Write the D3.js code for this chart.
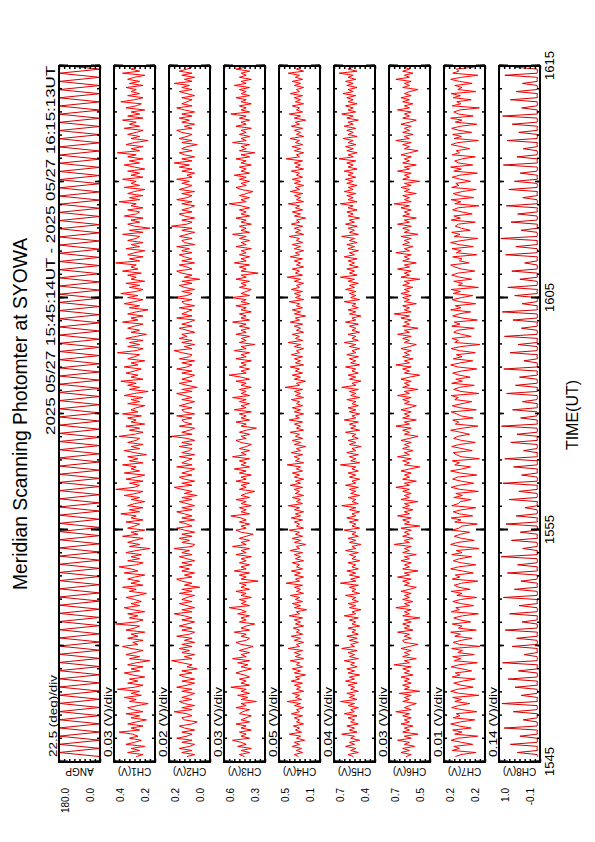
<!DOCTYPE html>
<html>
<head>
<meta charset="utf-8">
<script src="https://cdn.jsdelivr.net/npm/d3@7"></script>
<style>
	body { margin: 0; background: #fff; }
	svg { display: block; }
	text { font-family: "Liberation Sans", Arial, Helvetica, sans-serif; fill: #000; }
</style>
</head>
<body>
<div id="graph"></div>
<script>

// The plot is drawn in landscape (842 x 595) and turned a quarter turn
// so it sits on the portrait page like the original print.
let width = 842;
let height = 595;

let titleText = "Meridian Scanning Photomter at SYOWA";
let periodText = "2025 05/27 15:45:14UT - 2025 05/27 16:15:13UT";

let channelNames = ["ANGP", "CH1(V)", "CH2(V)", "CH3(V)", "CH4(V)",
	"CH5(V)", "CH6(V)", "CH7(V)", "CH8(V)"];
let divLabels = ["22.5 (deg)/div", "0.03 (V)/div", "0.02 (V)/div",
	"0.03 (V)/div", "0.05 (V)/div", "0.04 (V)/div", "0.03 (V)/div",
	"0.01 (V)/div", "0.14 (V)/div"];
let perDiv = [22.5, 0.03, 0.02, 0.03, 0.05, 0.04, 0.03, 0.01, 0.14];
let axisMins = [0.0, 0.2, 0.0, 0.33, 0.1, 0.4, 0.5, 0.16, -0.1];
let topLabels = ["180.0", "0.4", "0.2", "0.6", "0.5", "0.7", "0.7", "0.2", "1.0"];
let bottomLabels = ["0.0", "0.2", "0.0", "0.3", "0.1", "0.4", "0.5", "0.2", "-0.1"];

let timeTickLabels = ["1545", "1555", "1605", "1615"];
let timeTickSecs = [56700, 57300, 57900, 58500];   // 15:45 .. 16:15
let startSec = 56714;   // 15:45:14 UT
let endSec = 58513;     // 16:15:13 UT

// scan angle, one value per half scan
let angp = [
	0,180,0,180,0,180,0,180,0,180,0,180,0,180,0,180,0,180,0,
	180,0,180,0,180,0,180,0,180,0,180,0,180,0,180,0,180,0,180,
	0,180,0,180,0,180,0,180,0,180,0,180,0,180,0,180,0,180,0,
	180,0,180,0,180,0,180,0,180,0,180,0,180,0,180,0,180,0,180,
	0,180,0,180,0,180,0,180,0,180,0,180,0,180,0,180,0,180,0,
	180,0,180,0,180,0,180,0,180,0,180,0,180,0,180,0,180,0,180,
	0,180,0,180,0,180,0,180,0,180,0,180,0,180,0,180,0,180,0,
	180,0,180,0,180,0,180,0,180,0,180,0,180,0,180,0,180,0,180,
	0,180,0,180,0,180,0,180,0,180,0,180,0,180,0,180,0,180,0
	];
// photometer channels, four values per scan
let ch1 = [
	0.31,0.27,0.36,0.29,0.34,0.26,0.37,0.32,0.28,0.35,0.30,0.33,0.41,0.29,0.34,0.27,0.36,0.31,0.25,
	0.34,0.29,0.37,0.27,0.33,0.36,0.30,0.24,0.35,0.31,0.38,0.28,0.34,0.29,0.42,0.32,0.27,0.36,0.30,
	0.35,0.26,0.33,0.38,0.29,0.34,0.27,0.36,0.31,0.23,0.35,0.29,0.37,0.32,0.27,0.34,0.39,0.30,0.33,
	0.27,0.36,0.30,0.34,0.26,0.37,0.32,0.29,0.43,0.31,0.27,0.35,0.30,0.36,0.26,0.33,0.38,0.29,0.34,
	0.28,0.32,0.37,0.30,0.25,0.35,0.31,0.39,0.27,0.34,0.29,0.36,0.32,0.26,0.38,0.30,0.34,0.41,0.31,
	0.27,0.36,0.29,0.34,0.28,0.37,0.31,0.23,0.35,0.29,0.36,0.32,0.27,0.39,0.30,0.34,0.26,0.36,0.32,
	0.29,0.37,0.27,0.34,0.31,0.40,0.29,0.35,0.27,0.36,0.32,0.26,0.34,0.29,0.38,0.31,0.27,0.43,0.32,
	0.29,0.35,0.27,0.37,0.31,0.26,0.38,0.29,0.34,0.31,0.39,0.27,0.35,0.30,0.36,0.25,0.32,0.38,0.29,
	0.34,0.27,0.36,0.31,0.29,0.41,0.32,0.27,0.35,0.29,0.37,0.26,0.34,0.31,0.36,0.28,0.39,0.30,0.34,
	0.31,0.26,0.36,0.29,0.34,0.27,0.38,0.32,0.24,0.35,0.29,0.36,0.31,0.40,0.27,0.34,0.30,0.37,0.32,
	0.28,0.38,0.30,0.34,0.26,0.36,0.32,0.29,0.42,0.31,0.27,0.36,0.29,0.35,0.27,0.37,0.31,0.25,0.34,
	0.29,0.36,0.32,0.27,0.39,0.30,0.34,0.27,0.36,0.31,0.24,0.35,0.29,0.38,0.32,0.27,0.36,0.30,0.40,
	0.31,0.27,0.35,0.29,0.37,0.26,0.34,0.31,0.36,0.28,0.39,0.30,0.34,0.31,0.43,0.29,0.35,0.27,0.36,
	0.32,0.26,0.37,0.29,0.34,0.27,0.36,0.31,0.29,0.39,0.27,0.35,0.23,0.32,0.36,0.29,0.34,0.27,0.38,
	0.31,0.29,0.36,0.27,0.34,0.31,0.41,0.29,0.35,0.27,0.36,0.32,0.26,0.38,0.29,0.34,0.31,0.39,0.27,
	0.34,0.29,0.36,0.26,0.32,0.38,0.29,0.35,0.27,0.36,0.31,0.42,0.29,0.34,0.27,0.37,0.32,0.24,0.34,
	0.29,0.36,0.31,0.27,0.38,0.29,0.35,0.31,0.39,0.27,0.36,0.29,0.34,0.26,0.37,0.31,0.28,0.40,0.32,
	0.27,0.36,0.29,0.34,0.31,0.37,0.27,0.35,0.29,0.36,0.32,0.26,0.39,0.29,0.34,0.31,0.36,0.27,0.34
	];
let ch2 = [
	0.09,0.06,0.11,0.07,0.12,0.08,0.06,0.11,0.07,0.13,0.09,0.07,0.11,0.06,0.10,0.12,0.07,0.05,0.10,
	0.11,0.07,0.09,0.14,0.07,0.11,0.06,0.10,0.12,0.07,0.11,0.08,0.06,0.11,0.07,0.13,0.09,0.06,0.11,
	0.06,0.10,0.12,0.07,0.11,0.05,0.09,0.07,0.11,0.15,0.07,0.10,0.06,0.11,0.08,0.12,0.07,0.11,0.06,
	0.10,0.07,0.13,0.08,0.06,0.11,0.07,0.12,0.09,0.06,0.11,0.07,0.10,0.14,0.07,0.11,0.06,0.09,0.12,
	0.07,0.11,0.09,0.06,0.12,0.07,0.11,0.04,0.10,0.07,0.11,0.13,0.07,0.10,0.06,0.11,0.08,0.12,0.07,
	0.11,0.06,0.09,0.12,0.07,0.11,0.08,0.14,0.07,0.06,0.11,0.08,0.12,0.07,0.11,0.06,0.10,0.13,0.07,
	0.09,0.12,0.06,0.11,0.07,0.10,0.13,0.07,0.11,0.06,0.09,0.12,0.07,0.11,0.05,0.10,0.07,0.11,0.14,
	0.07,0.11,0.06,0.10,0.12,0.07,0.11,0.08,0.06,0.13,0.07,0.11,0.09,0.07,0.12,0.06,0.11,0.08,0.07,
	0.12,0.07,0.11,0.06,0.09,0.15,0.07,0.11,0.08,0.06,0.12,0.07,0.10,0.11,0.07,0.13,0.06,0.10,0.11,
	0.07,0.12,0.09,0.06,0.11,0.07,0.10,0.13,0.07,0.11,0.05,0.09,0.12,0.07,0.11,0.08,0.06,0.11,0.07,
	0.13,0.09,0.07,0.11,0.06,0.12,0.08,0.07,0.11,0.14,0.07,0.10,0.06,0.11,0.07,0.12,0.09,0.11,0.06,
	0.09,0.12,0.07,0.11,0.08,0.06,0.13,0.07,0.11,0.09,0.07,0.12,0.06,0.10,0.11,0.07,0.14,0.09,0.07,
	0.11,0.06,0.10,0.12,0.07,0.11,0.04,0.10,0.07,0.11,0.13,0.07,0.09,0.12,0.06,0.11,0.07,0.10,0.12,
	0.07,0.11,0.08,0.13,0.06,0.10,0.11,0.07,0.12,0.09,0.06,0.11,0.07,0.15,0.09,0.07,0.11,0.06,0.10,
	0.12,0.07,0.11,0.08,0.06,0.11,0.07,0.13,0.09,0.07,0.11,0.06,0.12,0.09,0.07,0.11,0.08,0.13,0.07,
	0.09,0.06,0.11,0.07,0.12,0.08,0.14,0.07,0.11,0.06,0.10,0.12,0.07,0.11,0.09,0.05,0.11,0.07,0.12,
	0.09,0.07,0.11,0.13,0.07,0.10,0.06,0.11,0.08,0.12,0.07,0.11,0.06,0.10,0.13,0.07,0.11,0.09,0.07,
	0.11,0.06,0.09,0.12,0.07,0.11,0.08,0.14,0.07,0.10,0.06,0.11,0.07,0.12,0.09,0.07,0.11,0.06,0.10
	];
let ch3 = [
	0.45,0.48,0.42,0.47,0.41,0.49,0.44,0.47,0.52,0.42,0.47,0.44,0.48,0.41,0.47,0.44,0.50,0.42,0.47,
	0.44,0.41,0.48,0.46,0.42,0.50,0.44,0.47,0.38,0.47,0.43,0.49,0.42,0.47,0.44,0.53,0.42,0.47,0.44,
	0.48,0.42,0.45,0.50,0.46,0.41,0.47,0.43,0.49,0.42,0.52,0.44,0.47,0.42,0.48,0.44,0.40,0.47,0.50,
	0.44,0.42,0.47,0.44,0.51,0.42,0.47,0.44,0.39,0.48,0.44,0.47,0.42,0.49,0.44,0.47,0.54,0.42,0.47,
	0.44,0.48,0.41,0.47,0.44,0.50,0.42,0.47,0.44,0.48,0.37,0.47,0.44,0.48,0.42,0.51,0.44,0.47,0.42,
	0.48,0.44,0.47,0.41,0.50,0.44,0.47,0.42,0.52,0.44,0.47,0.42,0.48,0.44,0.40,0.47,0.50,0.44,0.47,
	0.42,0.48,0.44,0.47,0.53,0.42,0.47,0.44,0.48,0.41,0.47,0.44,0.50,0.42,0.47,0.44,0.39,0.48,0.44,
	0.47,0.42,0.50,0.44,0.47,0.41,0.48,0.44,0.51,0.42,0.47,0.44,0.48,0.42,0.52,0.44,0.47,0.42,0.48,
	0.44,0.41,0.47,0.50,0.44,0.47,0.42,0.48,0.44,0.38,0.47,0.44,0.50,0.42,0.47,0.44,0.48,0.41,0.51,
	0.44,0.47,0.42,0.48,0.44,0.52,0.42,0.47,0.44,0.48,0.41,0.47,0.44,0.50,0.42,0.47,0.54,0.44,0.47,
	0.42,0.48,0.44,0.47,0.41,0.50,0.44,0.47,0.42,0.51,0.44,0.47,0.39,0.48,0.44,0.47,0.42,0.50,0.44,
	0.47,0.42,0.48,0.44,0.52,0.42,0.47,0.44,0.48,0.41,0.47,0.44,0.50,0.42,0.47,0.44,0.53,0.42,0.47,
	0.44,0.41,0.48,0.44,0.47,0.42,0.50,0.44,0.47,0.37,0.47,0.44,0.48,0.42,0.51,0.44,0.47,0.42,0.48,
	0.44,0.47,0.41,0.50,0.44,0.47,0.42,0.48,0.44,0.52,0.42,0.47,0.44,0.48,0.41,0.47,0.44,0.50,0.42,
	0.47,0.44,0.48,0.42,0.47,0.54,0.44,0.47,0.42,0.48,0.44,0.40,0.47,0.50,0.44,0.47,0.42,0.48,0.44,
	0.51,0.42,0.47,0.44,0.48,0.41,0.47,0.44,0.50,0.42,0.47,0.39,0.48,0.44,0.47,0.42,0.52,0.44,0.47,
	0.42,0.48,0.44,0.47,0.41,0.50,0.44,0.47,0.42,0.48,0.44,0.53,0.42,0.47,0.44,0.48,0.41,0.47,0.44,
	0.50,0.42,0.47,0.44,0.48,0.42,0.51,0.44,0.47,0.41,0.48,0.44,0.47,0.42,0.50,0.44,0.47,0.42,0.48
	];
let ch4 = [
	0.31,0.35,0.27,0.33,0.28,0.37,0.30,0.35,0.25,0.33,0.29,0.40,0.28,0.34,0.30,0.36,0.26,0.33,0.30,
	0.35,0.27,0.38,0.30,0.33,0.26,0.35,0.29,0.42,0.28,0.34,0.30,0.37,0.26,0.33,0.29,0.35,0.27,0.38,
	0.30,0.34,0.24,0.35,0.29,0.37,0.27,0.33,0.30,0.39,0.26,0.34,0.29,0.35,0.27,0.41,0.30,0.33,0.26,
	0.35,0.29,0.38,0.27,0.33,0.30,0.36,0.26,0.34,0.29,0.35,0.27,0.40,0.30,0.33,0.23,0.35,0.29,0.37,
	0.27,0.34,0.30,0.39,0.26,0.33,0.29,0.35,0.27,0.43,0.30,0.34,0.26,0.35,0.29,0.38,0.27,0.33,0.30,
	0.37,0.26,0.34,0.29,0.35,0.27,0.39,0.30,0.33,0.24,0.35,0.29,0.37,0.27,0.34,0.30,0.40,0.26,0.33,
	0.30,0.35,0.27,0.38,0.29,0.34,0.26,0.35,0.30,0.41,0.27,0.33,0.29,0.37,0.26,0.34,0.30,0.35,0.27,
	0.39,0.29,0.34,0.26,0.35,0.30,0.37,0.27,0.33,0.29,0.42,0.26,0.34,0.30,0.35,0.27,0.38,0.29,0.33,
	0.24,0.35,0.29,0.37,0.27,0.34,0.30,0.39,0.26,0.33,0.29,0.35,0.27,0.40,0.30,0.34,0.26,0.35,0.29,
	0.37,0.27,0.33,0.30,0.38,0.26,0.34,0.29,0.35,0.27,0.44,0.30,0.33,0.24,0.35,0.29,0.37,0.27,0.34,
	0.30,0.39,0.26,0.34,0.29,0.35,0.27,0.38,0.30,0.33,0.26,0.35,0.29,0.41,0.27,0.34,0.30,0.37,0.26,
	0.33,0.29,0.35,0.27,0.39,0.30,0.34,0.24,0.35,0.29,0.37,0.27,0.33,0.30,0.40,0.26,0.34,0.29,0.35,
	0.27,0.38,0.30,0.33,0.26,0.35,0.29,0.42,0.27,0.34,0.30,0.37,0.26,0.33,0.29,0.35,0.27,0.39,0.30,
	0.34,0.26,0.35,0.29,0.37,0.27,0.33,0.30,0.40,0.26,0.34,0.29,0.35,0.27,0.38,0.30,0.33,0.24,0.35,
	0.29,0.37,0.27,0.34,0.30,0.41,0.26,0.33,0.29,0.35,0.27,0.39,0.30,0.34,0.26,0.35,0.29,0.37,0.27,
	0.33,0.30,0.38,0.26,0.34,0.29,0.35,0.27,0.43,0.30,0.33,0.26,0.35,0.29,0.37,0.27,0.34,0.30,0.39,
	0.26,0.33,0.29,0.35,0.27,0.38,0.30,0.34,0.24,0.35,0.29,0.40,0.27,0.33,0.30,0.37,0.26,0.34,0.29,
	0.35,0.27,0.39,0.30,0.33,0.26,0.35,0.29,0.37,0.27,0.34,0.30,0.41,0.26,0.33,0.29,0.35,0.27,0.34
	];
let ch5 = [
	0.57,0.61,0.53,0.59,0.55,0.63,0.56,0.60,0.52,0.59,0.56,0.66,0.54,0.60,0.56,0.62,0.53,0.59,0.56,
	0.61,0.54,0.64,0.56,0.59,0.53,0.61,0.56,0.67,0.54,0.60,0.56,0.62,0.53,0.59,0.56,0.61,0.54,0.63,
	0.56,0.60,0.52,0.61,0.56,0.62,0.54,0.59,0.56,0.64,0.53,0.60,0.56,0.61,0.54,0.66,0.56,0.59,0.53,
	0.60,0.54,0.62,0.53,0.58,0.55,0.61,0.52,0.58,0.55,0.60,0.53,0.64,0.55,0.58,0.51,0.60,0.55,0.61,
	0.53,0.58,0.55,0.63,0.52,0.58,0.55,0.60,0.53,0.67,0.55,0.59,0.52,0.60,0.55,0.62,0.53,0.58,0.55,
	0.61,0.52,0.58,0.55,0.60,0.53,0.63,0.55,0.58,0.51,0.60,0.55,0.61,0.53,0.58,0.55,0.64,0.52,0.58,
	0.55,0.60,0.53,0.62,0.55,0.58,0.52,0.60,0.55,0.66,0.53,0.58,0.55,0.61,0.52,0.59,0.55,0.60,0.53,
	0.63,0.55,0.58,0.52,0.60,0.55,0.61,0.53,0.58,0.55,0.67,0.52,0.59,0.55,0.60,0.53,0.62,0.55,0.58,
	0.51,0.60,0.55,0.61,0.53,0.58,0.55,0.63,0.52,0.59,0.55,0.60,0.53,0.64,0.55,0.58,0.52,0.60,0.55,
	0.61,0.53,0.58,0.55,0.62,0.52,0.59,0.55,0.60,0.53,0.66,0.55,0.58,0.51,0.60,0.55,0.61,0.53,0.58,
	0.55,0.63,0.52,0.59,0.55,0.60,0.53,0.62,0.55,0.58,0.52,0.60,0.55,0.64,0.53,0.58,0.55,0.61,0.52,
	0.58,0.55,0.60,0.53,0.63,0.55,0.58,0.51,0.60,0.55,0.61,0.53,0.58,0.55,0.64,0.52,0.59,0.55,0.60,
	0.55,0.63,0.56,0.60,0.53,0.61,0.56,0.67,0.54,0.60,0.56,0.62,0.53,0.60,0.56,0.61,0.54,0.64,0.56,
	0.60,0.53,0.61,0.56,0.62,0.54,0.60,0.56,0.66,0.53,0.60,0.56,0.61,0.54,0.63,0.56,0.60,0.52,0.61,
	0.57,0.62,0.54,0.61,0.57,0.67,0.54,0.61,0.57,0.62,0.55,0.64,0.57,0.61,0.54,0.62,0.57,0.63,0.55,
	0.61,0.57,0.64,0.54,0.61,0.57,0.62,0.55,0.68,0.57,0.61,0.54,0.62,0.57,0.63,0.55,0.61,0.57,0.65,
	0.54,0.61,0.57,0.62,0.55,0.64,0.57,0.61,0.53,0.62,0.57,0.66,0.55,0.61,0.57,0.63,0.54,0.61,0.57,
	0.62,0.55,0.65,0.57,0.61,0.54,0.62,0.57,0.63,0.55,0.61,0.57,0.68,0.54,0.61,0.57,0.62,0.55,0.61
	];
let ch6 = [
	0.64,0.61,0.67,0.62,0.66,0.59,0.65,0.62,0.69,0.61,0.65,0.57,0.66,0.62,0.65,0.60,0.67,0.62,0.65,
	0.61,0.66,0.62,0.70,0.61,0.65,0.62,0.58,0.66,0.62,0.65,0.61,0.68,0.56,0.65,0.62,0.66,0.61,0.65,
	0.62,0.67,0.60,0.65,0.62,0.66,0.61,0.71,0.62,0.65,0.58,0.66,0.62,0.65,0.61,0.67,0.62,0.57,0.65,
	0.66,0.61,0.65,0.62,0.69,0.60,0.65,0.62,0.66,0.61,0.65,0.56,0.66,0.62,0.65,0.61,0.70,0.62,0.65,
	0.60,0.66,0.62,0.65,0.61,0.67,0.62,0.58,0.65,0.62,0.66,0.61,0.69,0.62,0.65,0.57,0.66,0.62,0.65,
	0.61,0.67,0.62,0.65,0.58,0.66,0.62,0.65,0.61,0.71,0.62,0.65,0.60,0.66,0.62,0.65,0.61,0.67,0.56,
	0.65,0.62,0.66,0.61,0.69,0.62,0.65,0.60,0.66,0.62,0.65,0.57,0.67,0.62,0.65,0.61,0.66,0.62,0.70,
	0.62,0.65,0.58,0.66,0.62,0.65,0.61,0.67,0.62,0.56,0.65,0.62,0.66,0.61,0.69,0.62,0.65,0.60,0.66,
	0.62,0.65,0.61,0.67,0.62,0.57,0.65,0.62,0.66,0.61,0.70,0.62,0.65,0.58,0.66,0.62,0.65,0.61,0.67,
	0.62,0.58,0.65,0.62,0.66,0.61,0.69,0.62,0.65,0.57,0.66,0.62,0.65,0.61,0.67,0.62,0.56,0.65,0.62,
	0.66,0.61,0.70,0.62,0.65,0.60,0.66,0.62,0.65,0.61,0.67,0.62,0.58,0.65,0.62,0.66,0.61,0.69,0.62,
	0.65,0.57,0.66,0.62,0.65,0.61,0.67,0.62,0.71,0.61,0.65,0.62,0.66,0.58,0.65,0.62,0.66,0.61,0.67,
	0.62,0.65,0.60,0.66,0.62,0.65,0.56,0.67,0.62,0.65,0.61,0.69,0.62,0.65,0.58,0.66,0.62,0.65,0.61,
	0.70,0.62,0.65,0.60,0.66,0.62,0.65,0.61,0.67,0.57,0.65,0.62,0.66,0.61,0.69,0.62,0.65,0.58,0.66,
	0.62,0.65,0.61,0.67,0.62,0.71,0.61,0.65,0.62,0.66,0.58,0.65,0.62,0.67,0.61,0.65,0.56,0.66,0.62,
	0.65,0.61,0.69,0.62,0.65,0.58,0.66,0.62,0.65,0.61,0.67,0.62,0.57,0.65,0.62,0.66,0.61,0.70,0.62,
	0.65,0.60,0.66,0.62,0.65,0.61,0.67,0.62,0.58,0.66,0.62,0.65,0.61,0.69,0.62,0.65,0.60,0.66,0.62,
	0.67,0.61,0.65,0.62,0.57,0.66,0.62,0.65,0.61,0.70,0.62,0.65,0.60,0.66,0.62,0.65,0.61,0.67,0.62
	];
let ch7 = [
	0.218,0.207,0.178,0.224,0.210,0.221,0.184,0.206,0.226,0.213,0.174,0.219,0.205,0.223,0.187,0.211,0.227,0.208,0.180,
	0.222,0.209,0.216,0.176,0.205,0.225,0.212,0.190,0.219,0.206,0.223,0.172,0.210,0.227,0.214,0.183,0.207,0.221,0.204,
	0.179,0.224,0.209,0.218,0.186,0.205,0.226,0.211,0.175,0.220,0.207,0.223,0.181,0.213,0.204,0.225,0.170,0.210,0.222,
	0.206,0.185,0.219,0.208,0.227,0.177,0.212,0.205,0.224,0.188,0.209,0.221,0.204,0.173,0.226,0.210,0.217,0.182,0.207,
	0.223,0.208,0.176,0.215,0.205,0.226,0.189,0.211,0.220,0.206,0.174,0.224,0.209,0.218,0.183,0.204,0.227,0.212,0.178,
	0.207,0.222,0.210,0.186,0.225,0.205,0.216,0.172,0.209,0.227,0.213,0.181,0.206,0.220,0.208,0.190,0.224,0.211,0.205,
	0.175,0.219,0.207,0.226,0.184,0.210,0.222,0.205,0.178,0.225,0.212,0.208,0.187,0.221,0.204,0.217,0.173,0.209,0.226,
	0.211,0.182,0.206,0.223,0.214,0.176,0.208,0.227,0.205,0.188,0.219,0.210,0.224,0.171,0.207,0.216,0.222,0.185,0.205,
	0.225,0.210,0.179,0.206,0.221,0.213,0.190,0.208,0.227,0.204,0.174,0.218,0.211,0.223,0.183,0.207,0.215,0.226,0.177,
	0.209,0.224,0.205,0.186,0.219,0.212,0.226,0.172,0.207,0.221,0.210,0.181,0.225,0.204,0.217,0.189,0.211,0.223,0.206,
	0.176,0.213,0.227,0.208,0.184,0.222,0.205,0.216,0.179,0.210,0.226,0.207,0.170,0.219,0.212,0.224,0.187,0.206,0.221,
	0.214,0.181,0.225,0.209,0.220,0.175,0.205,0.223,0.211,0.188,0.227,0.207,0.218,0.178,0.210,0.224,0.206,0.184,0.222,
	0.208,0.226,0.173,0.212,0.204,0.221,0.186,0.209,0.225,0.213,0.180,0.206,0.219,0.227,0.191,0.210,0.205,0.223,0.176,
	0.216,0.207,0.224,0.183,0.211,0.227,0.205,0.174,0.220,0.209,0.225,0.189,0.206,0.218,0.212,0.179,0.226,0.208,0.221,
	0.185,0.205,0.223,0.213,0.172,0.219,0.207,0.226,0.182,0.210,0.222,0.204,0.177,0.225,0.211,0.217,0.188,0.208,0.224,
	0.209,0.175,0.221,0.206,0.227,0.184,0.212,0.219,0.205,0.179,0.224,0.210,0.216,0.190,0.207,0.226,0.213,0.173,0.220,
	0.206,0.223,0.186,0.211,0.225,0.208,0.176,0.218,0.205,0.227,0.183,0.212,0.221,0.209,0.171,0.224,0.207,0.215,0.187,
	0.222,0.208,0.226,0.178,0.213,0.205,0.219,0.185,0.210,0.227,0.206,0.174,0.223,0.211,0.216,0.182,0.205,0.225,0.209
	];
let ch8 = [
	-0.03,-0.02,0.52,-0.03,-0.02,-0.03,0.71,-0.02,-0.03,-0.02,0.45,-0.03,-0.02,-0.03,0.88,-0.02,-0.03,-0.02,0.36,
	-0.03,-0.02,-0.03,0.63,-0.02,-0.03,-0.02,0.94,-0.03,-0.02,-0.03,0.41,-0.02,-0.03,-0.02,0.58,-0.03,-0.02,-0.03,
	0.77,-0.02,-0.03,-0.02,0.49,-0.03,-0.02,-0.03,0.92,-0.02,-0.03,-0.02,0.33,-0.03,-0.02,-0.03,0.66,-0.02,-0.03,
	-0.02,0.54,-0.03,-0.02,-0.03,0.85,-0.02,-0.03,-0.02,0.39,-0.03,-0.02,-0.03,0.73,-0.02,-0.03,-0.02,0.47,-0.03,
	-0.02,-0.03,0.90,-0.02,-0.03,-0.02,0.60,-0.03,-0.02,-0.03,0.42,-0.02,-0.03,-0.02,0.79,-0.03,-0.02,-0.03,0.51,
	-0.02,-0.03,-0.02,0.96,-0.03,-0.02,-0.03,0.37,-0.02,-0.03,-0.02,0.68,-0.03,-0.02,-0.03,0.44,-0.02,-0.03,-0.02,
	0.83,-0.03,-0.02,-0.03,0.55,-0.02,-0.03,-0.02,0.31,-0.03,-0.02,-0.03,0.74,-0.02,-0.03,-0.02,0.48,-0.03,-0.02,
	-0.03,0.91,-0.02,-0.03,-0.02,0.40,-0.03,-0.02,-0.03,0.62,-0.02,-0.03,-0.02,0.86,-0.03,-0.02,-0.03,0.35,-0.02,
	-0.03,-0.02,0.70,-0.03,-0.02,-0.03,0.53,-0.02,-0.03,-0.02,0.95,-0.03,-0.02,-0.03,0.43,-0.02,-0.03,-0.02,0.65,
	-0.03,-0.02,-0.03,0.38,-0.02,-0.03,-0.02,0.81,-0.03,-0.02,-0.03,0.57,-0.02,-0.03,-0.02,0.46,-0.03,-0.02,-0.03,
	0.89,-0.02,-0.03,-0.02,0.34,-0.03,-0.02,-0.03,0.72,-0.02,-0.03,-0.02,0.50,-0.03,-0.02,-0.03,0.87,-0.02,-0.03,
	-0.02,0.41,-0.03,-0.02,-0.03,0.64,-0.02,-0.03,-0.02,0.93,-0.03,-0.02,-0.03,0.39,-0.02,-0.03,-0.02,0.59,-0.03,
	-0.02,-0.03,0.78,-0.02,-0.03,-0.02,0.45,-0.03,-0.02,-0.03,0.67,-0.02,-0.03,-0.02,0.32,-0.03,-0.02,-0.03,0.84,
	-0.02,-0.03,-0.02,0.56,-0.03,-0.02,-0.03,0.97,-0.02,-0.03,-0.02,0.42,-0.03,-0.02,-0.03,0.69,-0.02,-0.03,-0.02,
	0.51,-0.03,-0.02,-0.03,0.82,-0.02,-0.03,-0.02,0.37,-0.03,-0.02,-0.03,0.75,-0.02,-0.03,-0.02,0.60,-0.03,-0.02,
	-0.03,0.44,-0.02,-0.03,-0.02,0.90,-0.03,-0.02,-0.03,0.53,-0.02,-0.03,-0.02,0.36,-0.03,-0.02,-0.03,0.80,-0.02,
	-0.03,-0.02,0.48,-0.03,-0.02,-0.03,0.66,-0.02,-0.03,-0.02,0.92,-0.03,-0.02,-0.03,0.40,-0.02,-0.03,-0.02,0.71,
	-0.03,-0.02,-0.03,0.55,-0.02,-0.03,-0.02,0.38,-0.03,-0.02,-0.03,0.86,-0.02,-0.03,-0.02,0.61,-0.03,-0.02,-0.03
	];
let series = [angp, ch1, ch2, ch3, ch4, ch5, ch6, ch7, ch8];


// Layout (landscape coordinates):
let plotLeft = 80;
let plotRight = 776;
let panelTop = 59;
let panelHeight = 41;
let panelStep = 55;
let nDiv = 8;


let svg = d3.select("#graph")
	.append("svg")
		.attr("width", height)
		.attr("height", width)
	;
svg.append("rect")
	.attr("width", height)
	.attr("height", width)
	.attr("fill", "#fff")
	;

// turn the landscape sheet a quarter turn counter-clockwise:
let sheet = svg.append("g")
	.attr("transform", `translate(0, ${width}) rotate(-90)`)
	;

let xScale = d3.scaleLinear()
	.domain([timeTickSecs[0], timeTickSecs[timeTickSecs.length - 1]])
	.range([plotLeft, plotRight])
	;

let minuteTicks = d3.range(timeTickSecs[0], timeTickSecs[3] + 1, 60);
let fiveTicks = d3.range(timeTickSecs[0], timeTickSecs[3] + 1, 300);
let tenTicks = d3.range(timeTickSecs[0], timeTickSecs[3] + 1, 600);


// Title and period
sheet.append("text")
	.attr("x", (plotLeft + plotRight) / 2)
	.attr("y", 27)
	.attr("text-anchor", "middle")
	.attr("textLength", 352)
	.attr("lengthAdjust", "spacingAndGlyphs")
	.style("font-size", "20px")
	.text(titleText)
	;
sheet.append("text")
	.attr("x", plotRight)
	.attr("y", 55)
	.attr("text-anchor", "end")
	.attr("textLength", 369)
	.attr("lengthAdjust", "spacingAndGlyphs")
	.style("font-size", "13px")
	.text(periodText)
	;


sheet.append("clipPath")
	.attr("id", "plotClip")
	.append("rect")
		.attr("x", plotLeft)
		.attr("y", 0)
		.attr("width", plotRight - plotLeft)
		.attr("height", height)
	;


// regular sampling between the first and last record
function sampleTime(i, n) {
	return startSec + i * (endSec - startSec) / (n - 1);
	}


series.forEach( (values, k) => {
	let top = panelTop + k * panelStep;
	let bottom = top + panelHeight;
	let yMin = axisMins[k];
	let yScale = d3.scaleLinear()
		.domain([yMin, yMin + nDiv * perDiv[k]])
		.range([bottom, top])
		;
	let divTicks = d3.range(nDiv + 1).map(i => yMin + i * perDiv[k]);

	let panel = sheet.append("g").attr("class", "panel");

	// trace
	let line = d3.line()
		.x((d, i) => xScale(sampleTime(i, values.length)))
		.y(d => yScale(d))
		;
	panel.append("path")
		.datum(values)
		.attr("clip-path", "url(#plotClip)")
		.attr("fill", "none")
		.attr("stroke", (k === 0 || k === 8) ? "#d40000" : "#ff0000")
		.attr("stroke-width", 1)
		.attr("d", line)
		;

	// time ticks along both long sides, pointing inwards
	let tickSets = [
		{ vals: minuteTicks, size: 3, w: 1.5 },
		{ vals: fiveTicks, size: 5, w: 1.5 },
		{ vals: tenTicks, size: 9, w: 2 }
		];
	tickSets.forEach(t => {
		panel.append("g")
			.attr("transform", `translate(0, ${top})`)
			.call(d3.axisBottom(xScale).tickValues(t.vals).tickSize(t.size).tickFormat(""))
			.call(g => g.select(".domain").remove())
			.selectAll("line").attr("stroke-width", t.w)
			;
		panel.append("g")
			.attr("transform", `translate(0, ${bottom})`)
			.call(d3.axisTop(xScale).tickValues(t.vals).tickSize(t.size).tickFormat(""))
			.call(g => g.select(".domain").remove())
			.selectAll("line").attr("stroke-width", t.w)
			;
		});

	// division ticks on the short sides
	panel.append("g")
		.attr("transform", `translate(${plotLeft}, 0)`)
		.call(d3.axisRight(yScale).tickValues(divTicks).tickSize(3).tickFormat(""))
		.call(g => g.select(".domain").remove())
		.selectAll("line").attr("stroke-width", 1.5)
		;
	panel.append("g")
		.attr("transform", `translate(${plotRight}, 0)`)
		.call(d3.axisLeft(yScale).tickValues(divTicks).tickSize(3).tickFormat(""))
		.call(g => g.select(".domain").remove())
		.selectAll("line").attr("stroke-width", 1.5)
		;

	// frame
	panel.append("rect")
		.attr("x", plotLeft)
		.attr("y", top)
		.attr("width", plotRight - plotLeft)
		.attr("height", panelHeight)
		.attr("fill", "none")
		.attr("stroke", "#000")
		.attr("stroke-width", 2)
		;

	// scale note above the panel
	panel.append("text")
		.attr("x", plotLeft + 5)
		.attr("y", top - 2)
		.attr("textLength", k === 0 ? 82 : 70)
		.attr("lengthAdjust", "spacingAndGlyphs")
		.style("font-size", "11px")
		.text(divLabels[k])
		;

	// range labels on the left
	panel.append("text")
		.attr("x", 54)
		.attr("y", top + 10)
		.attr("text-anchor", "end")
		.style("font-size", "10px")
		.text(topLabels[k])
		;
	panel.append("text")
		.attr("x", 54)
		.attr("y", bottom - 6)
		.attr("text-anchor", "end")
		.style("font-size", "10px")
		.text(bottomLabels[k])
		;
	panel.append("text")
		.attr("transform", `translate(74, ${(top + bottom) / 2}) rotate(-90)`)
		.attr("text-anchor", "middle")
		.style("font-size", "10px")
		.text(channelNames[k])
		;
	});


// time axis under the last panel
let lastBottom = panelTop + 8 * panelStep + panelHeight;
sheet.append("g")
	.attr("transform", `translate(0, ${lastBottom})`)
	.call(d3.axisBottom(xScale)
		.tickValues(timeTickSecs)
		.tickSize(0)
		.tickPadding(5)
		.tickFormat((d, i) => timeTickLabels[i]))
	.call(g => g.select(".domain").remove())
	.selectAll("text")
		.style("font-size", "13px")
		.style("font-family", "'Liberation Sans', Arial, sans-serif")
	;

sheet.append("text")
	.attr("x", 427)
	.attr("y", 578)
	.attr("text-anchor", "middle")
	.style("font-size", "16px")
	.text("TIME(UT)")
	;

</script>
</body>
</html>
